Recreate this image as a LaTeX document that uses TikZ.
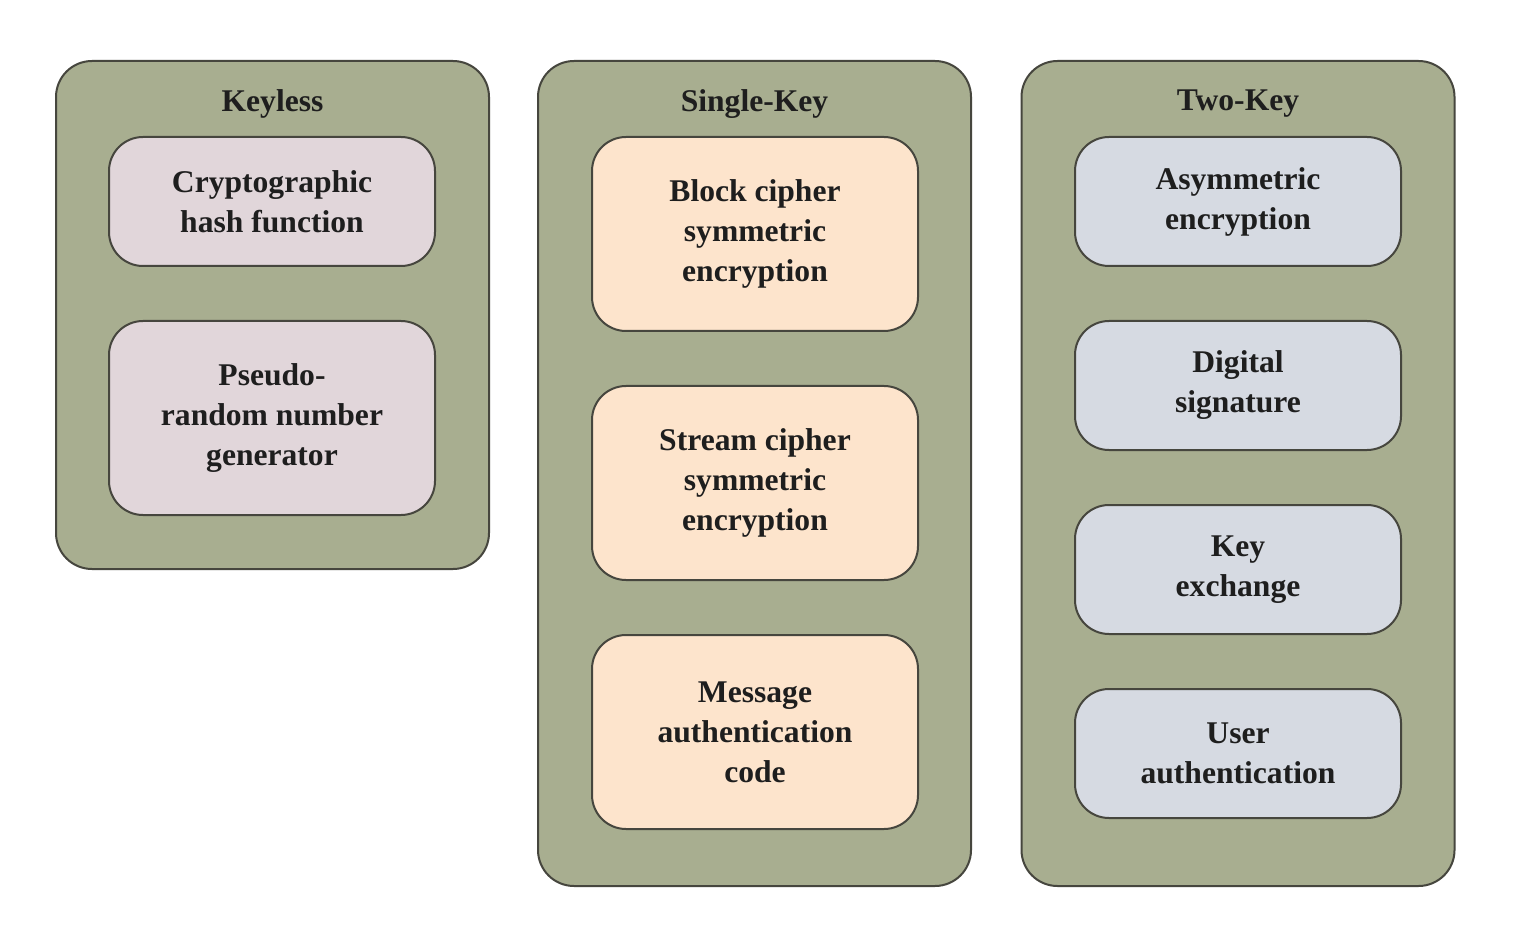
\documentclass[tikz,border=0pt]{standalone}
\usepackage{fontspec}
\setmainfont{Liberation Serif}
\definecolor{panelgreen}{RGB}{168,174,144}
\definecolor{boxpink}{RGB}{225,214,218}
\definecolor{boxpeach}{RGB}{253,228,204}
\definecolor{boxblue}{RGB}{214,218,226}
\definecolor{edgegray}{RGB}{70,70,62}
\definecolor{txt}{RGB}{30,30,30}
\begin{document}
\begin{tikzpicture}[x=0.5pt,y=-0.5pt,
  panel/.style={draw=edgegray,line width=1pt,fill=panelgreen,rounded corners=18pt,inner sep=0pt,minimum width=216.5pt},
  title/.style={font=\bfseries\fontsize{15.8}{20}\selectfont,text=txt},
  item/.style={draw=edgegray,line width=1pt,rounded corners=17pt,minimum width=163pt,inner sep=0pt,
    align=center,font=\bfseries\fontsize{15.8}{20}\selectfont,text=txt},
  pinkbox/.style={item,fill=boxpink},
  peachbox/.style={item,fill=boxpeach},
  bluebox/.style={item,fill=boxblue}]
\useasboundingbox[fill=white] (0,0) rectangle (1534,940);
% panels
\node[panel,minimum height=254pt] (p1) at (272.5,315) {};
\node[panel,minimum height=412.5pt] (p2) at (754.5,473.5) {};
\node[panel,minimum height=412.5pt] (p3) at (1238,473.5) {};
% titles
\node[title] (t1) at (272.5,104) {Keyless};
\node[title] (t2) at (754.5,104) {Single-Key};
\node[title] (t3) at (1238,104) {Two-Key};
% keyless
\node[pinkbox,minimum height=64.5pt] (k1) at (272,201.5) {Cryptographic\\hash function};
\node[pinkbox,minimum height=97pt] (k2) at (272,418) {Pseudo-\\random number\\generator};
% single-key
\node[peachbox,minimum height=97pt] (s1) at (755,234) {Block cipher\\symmetric\\encryption};
\node[peachbox,minimum height=97pt] (s2) at (755,483) {Stream cipher\\symmetric\\encryption};
\node[peachbox,minimum height=97pt] (s3) at (755,732) {Message\\authentication\\code};
% two-key
\node[bluebox,minimum height=64.5pt] (w1) at (1238,201.5) {Asymmetric\\encryption};
\node[bluebox,minimum height=64.5pt] (w2) at (1238,385.5) {Digital\\signature};
\node[bluebox,minimum height=64.5pt] (w3) at (1238,569.5) {Key\\exchange};
\node[bluebox,minimum height=64.5pt] (w4) at (1238,753.5) {User\\authentication};
\end{tikzpicture}
\end{document}
